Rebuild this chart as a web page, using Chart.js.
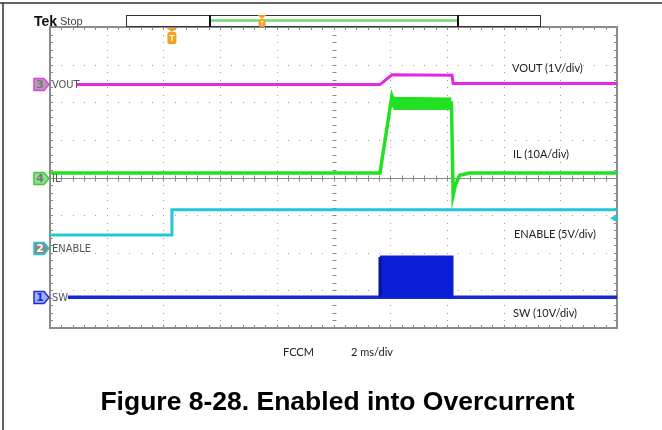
<!DOCTYPE html>
<html>
<head>
<meta charset="utf-8">
<script src="https://cdn.jsdelivr.net/npm/chart.js@4"></script>
<style>
body { margin: 0; background: #fff; }
#wrap { position: relative; width: 662px; height: 430px; overflow: hidden; }
canvas { position: absolute; left: 0; top: 0; }
.t { position: absolute; white-space: nowrap; line-height: 1; }
.lab { font: 11px Lato, "Open Sans", sans-serif; color: #222; }
.ch { font: 11px "DejaVu Sans Condensed", "Liberation Sans Narrow", sans-serif; color: #555; }
</style>
</head>
<body>
<div id="wrap">
  <canvas id="scope" width="662" height="430"></canvas>
  <div class="t" style="left:34px;top:13px;font:bold 14px 'Liberation Sans',Arial,sans-serif;color:#111;">Tek</div>
  <div class="t" style="left:60px;top:15px;font:11px 'Liberation Sans',Arial,sans-serif;color:#444;">Stop</div>
  <div class="t ch" style="left:52px;top:78px;">VOUT</div>
  <div class="t ch" style="left:52px;top:172px;">IL</div>
  <div class="t ch" style="left:52px;top:242px;">ENABLE</div>
  <div class="t ch" style="left:52px;top:291px;">SW</div>
  <div class="t lab" style="left:512px;top:61px;">VOUT (1V/div)</div>
  <div class="t lab" style="left:513px;top:147px;">IL (10A/div)</div>
  <div class="t lab" style="left:514px;top:227px;">ENABLE (5V/div)</div>
  <div class="t lab" style="left:513px;top:306px;">SW (10V/div)</div>
  <div class="t lab" style="left:283px;top:345px;">FCCM</div>
  <div class="t lab" style="left:351px;top:345px;">2 ms/div</div>
  <div class="t" style="left:0;width:675px;text-align:center;top:386px;font:bold 26.5px 'Liberation Sans',Arial,sans-serif;color:#000;">Figure 8-28. Enabled into Overcurrent</div>
</div>
<script>
// time axis in ms (2 ms/div, 10 div), vertical in screen divisions (-4..4)
const voutT = [0.95, 11.64, 12.06, 14.18, 14.22, 20];
const voutV = [2.47, 2.47, 2.73, 2.72, 2.5, 2.5];

const ilT = [0, 11.64, 12.06, 12.15, 14.16, 14.22, 14.3, 14.45, 14.8, 20];
const ilV = [0.12, 0.12, 2.17, 1.98, 1.98, -0.47, -0.2, 0.06, 0.12, 0.12];
const ilBandT = [12.06, 12.15, 14.16];
const ilBandHi = [2.17, 2.12, 2.1];
const ilBandLo = [1.95, 1.82, 1.82];

const enT = [0, 4.3, 4.3, 20];
const enV = [-1.53, -1.53, -0.86, -0.86];

const swT = [0.63, 20];
const swV = [-3.18, -3.18];
const swBurstT = [11.64, 11.64, 14.18, 14.18];
const swBurstV = [-3.18, -2.11, -2.11, -3.18];

// channel ground markers (div) for ch 1..4, trigger point and level
const chanRef = [-3.18, -1.87, 2.49, -0.01];
const trigTime = 4.3;
const trigLevel = -1.08;

const pts = (xs, ys) => xs.map((t, i) => ({x: t, y: ys[i]}));

const chanStyle = [
  {num: '1', stroke: '#1a2be0', fill: '#9fb0f5', text: '#1a2be0'},
  {num: '2', stroke: '#22c8d8', fill: '#8a8a8a', text: '#ffffff'},
  {num: '3', stroke: '#e040e0', fill: '#b89ab8', text: '#777777'},
  {num: '4', stroke: '#3ccc3c', fill: '#8fdc8f', text: '#777777'}
];

const scopeGrid = {
  id: 'scopeGrid',
  beforeDatasetsDraw(chart) {
    const {ctx, chartArea: a, scales: {x, y}} = chart;
    ctx.save();
    ctx.fillStyle = '#a0a0a0';
    // dotted graticule
    for (let i = 1; i < 10; i++) {
      const px = Math.round(x.getPixelForValue(i * 2));
      for (let k = 0; k <= 40; k++) {
        const py = Math.round(y.getPixelForValue(-4 + k / 5));
        ctx.fillRect(px, py, 1, 1);
      }
    }
    for (let j = 1; j < 8; j++) {
      const py = Math.round(y.getPixelForValue(-4 + j));
      for (let k = 0; k <= 50; k++) {
        const px = Math.round(x.getPixelForValue(k * 0.4));
        ctx.fillRect(px, py, 1, 1);
      }
    }
    ctx.strokeStyle = '#888';
    ctx.lineWidth = 1;
    // centre horizontal line with ticks
    const cy = Math.round(y.getPixelForValue(0)) + 0.5;
    ctx.beginPath();
    ctx.moveTo(a.left, cy); ctx.lineTo(a.right, cy);
    for (let k = 0; k <= 50; k++) {
      const px = Math.round(x.getPixelForValue(k * 0.4)) + 0.5;
      ctx.moveTo(px, cy - 3); ctx.lineTo(px, cy + 3);
    }
    // centre vertical ticks
    const cx = Math.round(x.getPixelForValue(10)) + 0.5;
    for (let k = 0; k <= 40; k++) {
      const py = Math.round(y.getPixelForValue(-4 + k / 5)) + 0.5;
      ctx.moveTo(cx - 2, py); ctx.lineTo(cx + 2, py);
    }
    // border ticks
    for (let k = 0; k <= 50; k++) {
      const px = Math.round(x.getPixelForValue(k * 0.4)) + 0.5;
      ctx.moveTo(px, a.top); ctx.lineTo(px, a.top + 3);
      ctx.moveTo(px, a.bottom); ctx.lineTo(px, a.bottom - 3);
    }
    for (let k = 0; k <= 40; k++) {
      const py = Math.round(y.getPixelForValue(-4 + k / 5)) + 0.5;
      ctx.moveTo(a.left, py); ctx.lineTo(a.left + 3, py);
      ctx.moveTo(a.right, py); ctx.lineTo(a.right - 3, py);
    }
    ctx.stroke();
    ctx.lineWidth = 2;
    ctx.strokeStyle = '#8c8c8c';
    ctx.strokeRect(a.left, a.top, a.right - a.left, a.bottom - a.top);
    ctx.restore();
  },
  afterDatasetsDraw(chart) {
    const {ctx, scales: {x, y}} = chart;
    ctx.save();
    // page frame
    ctx.strokeStyle = '#333';
    ctx.lineWidth = 1.5;
    ctx.beginPath();
    ctx.moveTo(0, 3); ctx.lineTo(662, 3);
    ctx.moveTo(3, 3); ctx.lineTo(3, 430);
    ctx.stroke();
    // record bar
    ctx.lineWidth = 1;
    ctx.strokeStyle = '#333';
    ctx.strokeRect(126.5, 15.5, 414, 11);
    ctx.strokeStyle = '#70d870';
    ctx.lineWidth = 2.5;
    ctx.beginPath(); ctx.moveTo(210, 20.5); ctx.lineTo(458, 20.5); ctx.stroke();
    ctx.strokeStyle = '#111';
    ctx.lineWidth = 2;
    ctx.beginPath();
    ctx.moveTo(210, 15); ctx.lineTo(210, 27);
    ctx.moveTo(458, 15); ctx.lineTo(458, 27);
    ctx.stroke();
    // trigger markers
    const drawT = (cx, top, w, h) => {
      ctx.fillStyle = '#f5a020';
      ctx.beginPath();
      ctx.moveTo(cx - w / 2 - 1, top); ctx.lineTo(cx + w / 2 + 1, top); ctx.lineTo(cx, top + 4);
      ctx.fill();
      ctx.beginPath();
      ctx.roundRect(cx - w / 2, top + 4, w, h, 2);
      ctx.fill();
      ctx.fillStyle = '#fff';
      ctx.font = 'bold ' + (h - 3) + 'px Liberation Sans, Arial, sans-serif';
      ctx.textAlign = 'center';
      ctx.textBaseline = 'middle';
      ctx.fillText('T', cx, top + 4 + h / 2 + 0.5);
    };
    drawT(x.getPixelForValue(trigTime), 28, 9, 12);
    drawT(262, 15, 7, 8);
    // trigger level arrow (ch2)
    const ty = y.getPixelForValue(trigLevel);
    ctx.fillStyle = '#22c8d8';
    ctx.beginPath();
    ctx.moveTo(610, ty); ctx.lineTo(617, ty - 4); ctx.lineTo(617, ty + 4);
    ctx.fill();
    // channel tags
    chanRef.forEach((lvl, i) => {
      const s = chanStyle[i];
      const yc = Math.round(y.getPixelForValue(lvl)) + 0.5;
      const x0 = 34;
      ctx.beginPath();
      ctx.moveTo(x0, yc - 6); ctx.lineTo(x0 + 10, yc - 6); ctx.lineTo(x0 + 15, yc);
      ctx.lineTo(x0 + 10, yc + 6); ctx.lineTo(x0, yc + 6); ctx.closePath();
      ctx.fillStyle = s.fill;
      ctx.fill();
      ctx.lineWidth = 1.5;
      ctx.strokeStyle = s.stroke;
      ctx.stroke();
      ctx.fillStyle = s.text;
      ctx.font = 'bold 11px DejaVu Sans, sans-serif';
      ctx.textAlign = 'center';
      ctx.textBaseline = 'middle';
      ctx.fillText(s.num, x0 + 6, yc + 0.5);
    });
    ctx.restore();
  }
};

const trace = (label, data, color, extra) => Object.assign({
  label, data, borderColor: color, backgroundColor: color,
  borderWidth: 3, pointRadius: 0, tension: 0, fill: false
}, extra || {});

new Chart(document.getElementById('scope'), {
  type: 'line',
  data: {
    datasets: [
      trace('VOUT', pts(voutT, voutV), '#e628e6'),
      trace('IL band', pts(ilBandT, ilBandHi), '#22e022', {borderWidth: 2, fill: '+1'}),
      trace('IL band low', pts(ilBandT, ilBandLo), '#22e022', {borderWidth: 2}),
      trace('IL', pts(ilT, ilV), '#22e022', {borderWidth: 3.5}),
      trace('ENABLE', pts(enT, enV), '#22c8d8'),
      trace('SW burst', pts(swBurstT, swBurstV), '#0a1ed8', {
        borderWidth: 3,
        fill: {value: -3.18},
        segment: {borderColor: c => c.p0DataIndex === 0 ? '#0a148c' : '#0a1ed8'}
      }),
      trace('SW', pts(swT, swV), '#1428d8', {borderWidth: 3.5})
    ]
  },
  options: {
    responsive: false,
    animation: false,
    layout: {padding: {left: 50, right: 45, top: 27, bottom: 102}},
    plugins: {legend: {display: false}, tooltip: {enabled: false}},
    scales: {
      x: {type: 'linear', min: 0, max: 20, display: false},
      y: {min: -4, max: 4, display: false}
    }
  },
  plugins: [scopeGrid]
});
</script>
</body>
</html>
